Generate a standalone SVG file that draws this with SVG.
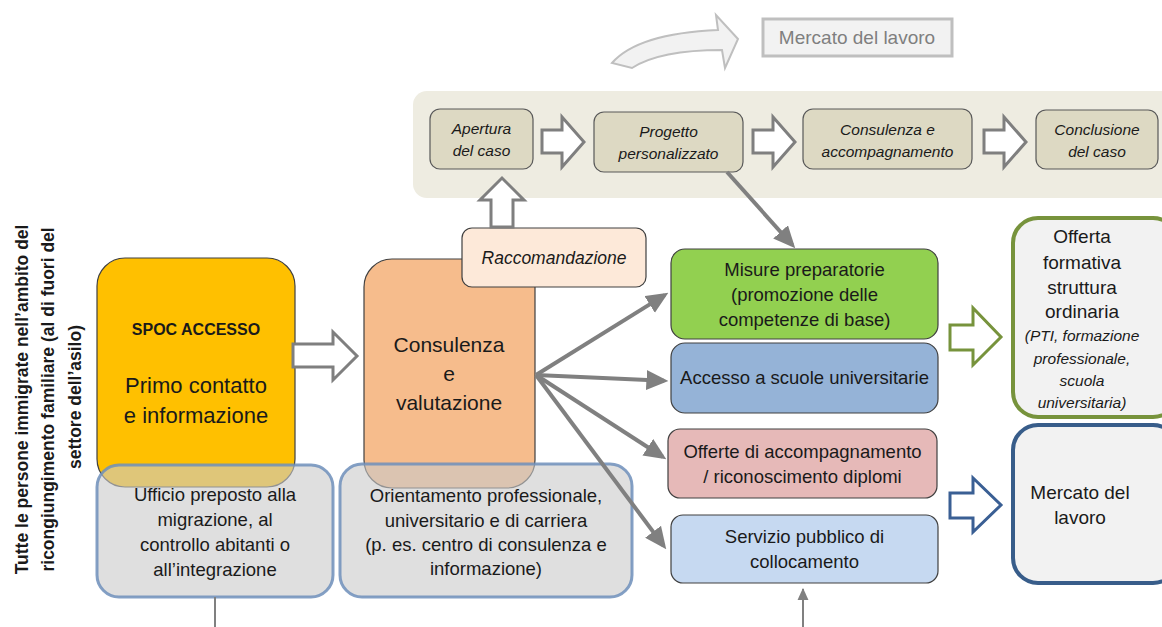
<svg xmlns="http://www.w3.org/2000/svg" width="1162" height="627" viewBox="0 0 1162 627">
<defs>
<style>
text{font-family:"Liberation Sans",Arial,sans-serif;fill:#1a1a1a;text-anchor:middle}
.it{font-style:italic}
.box{stroke:#404040;stroke-width:1.2}
.pbox{fill:#ddd9c3;stroke:#595959;stroke-width:1.2}
.ptxt{font-size:15.5px;font-style:italic}
.gbox{fill:#c9c9c9;fill-opacity:0.6;stroke:#6f8fbb;stroke-opacity:0.85;stroke-width:3}
.btxt{font-size:18.5px}
.hollow{fill:#ffffff;stroke:#7f7f7f;stroke-width:3;stroke-linejoin:miter}
.con{stroke:#808080;stroke-width:4;fill:none}
</style>
<marker id="ah" markerUnits="userSpaceOnUse" markerWidth="22" markerHeight="20" refX="16" refY="9" orient="auto" viewBox="0 0 20 18">
<path d="M0,0 L20,9 L0,18 Z" fill="#808080"/>
</marker>
<marker id="ahs" markerUnits="userSpaceOnUse" markerWidth="12" markerHeight="12" refX="10" refY="5" orient="auto" viewBox="0 0 11 10">
<path d="M0,0 L11,5 L0,10 Z" fill="#808080"/>
</marker>
</defs>
<rect width="1162" height="627" fill="#ffffff"/>

<!-- top curved arrow and labor market -->
<g id="top-arrow">
<path d="M612,63 C632,40 672,32 718,30 L716,15 L738,39 L725,68 L722,50 C682,50 652,55 632,68 Z" fill="#f2f2f2" stroke="#bfbfbf" stroke-width="2"/>
</g>
<g id="mercato-top">
<rect x="763" y="19" width="189" height="37" fill="#f2f2f2" stroke="#bfbfbf" stroke-width="3"/>
<text x="857" y="44" style="font-size:19px;fill:#7f7f7f">Mercato del lavoro</text>
</g>

<!-- process band -->
<g id="band">
<rect x="413" y="91" width="770" height="107" rx="14" fill="#eeece1"/>
</g>
<g id="apertura">
<rect class="pbox" x="430" y="109" width="103" height="60" rx="10"/>
<text class="ptxt" x="481.5" y="134">Apertura</text>
<text class="ptxt" x="481.5" y="156">del caso</text>
</g>
<g id="progetto">
<rect class="pbox" x="594" y="112" width="149" height="60" rx="10"/>
<text class="ptxt" x="668.5" y="137">Progetto</text>
<text class="ptxt" x="668.5" y="159">personalizzato</text>
</g>
<g id="consulenza-acc">
<rect class="pbox" x="803" y="109" width="169" height="60" rx="10"/>
<text class="ptxt" x="887.5" y="135">Consulenza e</text>
<text class="ptxt" x="887.5" y="157">accompagnamento</text>
</g>
<g id="conclusione">
<rect class="pbox" x="1036" y="110" width="122" height="59" rx="10"/>
<text class="ptxt" x="1097" y="135">Conclusione</text>
<text class="ptxt" x="1097" y="157">del caso</text>
</g>

<!-- left vertical label -->
<g id="target-group">
<text transform="rotate(-90)" style="font-size:17.5px;font-weight:bold">
<tspan x="-397" y="28">Tutte le persone immigrate nell’ambito del</tspan>
<tspan x="-397" y="54">ricongiungimento familiare (al di fuori del</tspan>
<tspan x="-397" y="81">settore dell’asilo)</tspan>
</text>
</g>

<!-- SPOC -->
<g id="spoc">
<rect class="box" x="97" y="258" width="198" height="229" rx="28" fill="#ffc000"/>
<text x="196" y="335" style="font-size:16px;font-weight:bold">SPOC ACCESSO</text>
<text x="196" y="393" style="font-size:22px">Primo contatto</text>
<text x="196" y="423" style="font-size:22px">e informazione</text>
</g>

<!-- Consulenza e valutazione -->
<g id="consulenza">
<rect class="box" x="364" y="259" width="171" height="229" rx="28" fill="#f6bc8c"/>
<text x="449" y="352" style="font-size:21px">Consulenza</text>
<text x="449" y="381" style="font-size:21px">e</text>
<text x="449" y="410" style="font-size:21px">valutazione</text>
</g>

<g id="raccomandazione">
<rect class="box" x="462" y="228" width="184" height="59" rx="10" fill="#fde9d9"/>
<text class="it" x="554" y="264" style="font-size:17.5px">Raccomandazione</text>
</g>

<!-- gray institution boxes -->
<g id="ufficio">
<rect class="gbox" x="97" y="465" width="236" height="132" rx="22"/>
<text class="btxt" x="215" y="501">Ufficio preposto alla</text>
<text class="btxt" x="215" y="526">migrazione, al</text>
<text class="btxt" x="215" y="551">controllo abitanti o</text>
<text class="btxt" x="215" y="576">all’integrazione</text>
</g>
<g id="orientamento">
<rect class="gbox" x="340" y="464" width="292" height="133" rx="22"/>
<text class="btxt" x="486" y="502">Orientamento professionale,</text>
<text class="btxt" x="486" y="527">universitario e di carriera</text>
<text class="btxt" x="486" y="551">(p. es. centro di consulenza e</text>
<text class="btxt" x="486" y="575">informazione)</text>
</g>

<!-- measure boxes -->
<g id="misure">
<rect class="box" x="671" y="249" width="267" height="90" rx="14" fill="#92d050"/>
<text class="btxt" x="804.5" y="276">Misure preparatorie</text>
<text class="btxt" x="804.5" y="301">(promozione delle</text>
<text class="btxt" x="804.5" y="326">competenze di base)</text>
</g>
<g id="accesso">
<rect class="box" x="671" y="343" width="267" height="70" rx="14" fill="#95b3d7"/>
<text class="btxt" x="804.5" y="384">Accesso a scuole universitarie</text>
</g>
<g id="offerte">
<rect class="box" x="668" y="429" width="269" height="69" rx="12" fill="#e6b9b8"/>
<text class="btxt" x="802.5" y="458">Offerte di accompagnamento</text>
<text class="btxt" x="802.5" y="483">/ riconoscimento diplomi</text>
</g>
<g id="servizio">
<rect class="box" x="671" y="515" width="267" height="68" rx="12" fill="#c6d9f1"/>
<text class="btxt" x="804.5" y="543">Servizio pubblico di</text>
<text class="btxt" x="804.5" y="568">collocamento</text>
</g>

<!-- outcome boxes -->
<g id="offerta-formativa">
<rect x="1013" y="218" width="165" height="199" rx="25" fill="#f2f2f2" stroke="#77933c" stroke-width="4"/>
<text x="1082" y="243" style="font-size:19px">Offerta</text>
<text x="1082" y="269" style="font-size:19px">formativa</text>
<text x="1082" y="294" style="font-size:19px">struttura</text>
<text x="1082" y="318" style="font-size:19px">ordinaria</text>
<text class="it" x="1082" y="341" style="font-size:15.5px">(PTI, formazione</text>
<text class="it" x="1082" y="364" style="font-size:15.5px">professionale,</text>
<text class="it" x="1082" y="386" style="font-size:15.5px">scuola</text>
<text class="it" x="1082" y="408" style="font-size:15.5px">universitaria)</text>
</g>
<g id="mercato">
<rect x="1013" y="425" width="165" height="158" rx="25" fill="#f2f2f2" stroke="#385d8a" stroke-width="4"/>
<text x="1080" y="499" style="font-size:19px">Mercato del</text>
<text x="1080" y="524" style="font-size:19px">lavoro</text>
</g>

<!-- connectors -->
<g id="connectors">
<polygon class="hollow" points="293,344 333,344 333,332 357,356 333,380 333,367 293,367"/>
<polygon class="hollow" points="542,130 562,130 562,117 584,142 562,167 562,153 542,153"/>
<polygon class="hollow" points="753,130 773,130 773,117 795,142 773,167 773,153 753,153"/>
<polygon class="hollow" points="984,130 1004,130 1004,117 1026,142 1004,167 1004,153 984,153"/>
<polygon class="hollow" points="491,227 491,200 480,200 502,178 524,200 513,200 513,227"/>
<polygon points="950,325 973,325 973,308 1001,337 973,365 973,350 950,350" fill="#ffffff" stroke="#77933c" stroke-width="3"/>
<polygon points="950,493 973,493 973,478 1001,505 973,532 973,518 950,518" fill="#ffffff" stroke="#3a5f94" stroke-width="3"/>
<line class="con" x1="536" y1="375" x2="664.6" y2="295.1" marker-end="url(#ah)"/>
<line class="con" x1="536" y1="375" x2="664" y2="380.8" marker-end="url(#ah)"/>
<line class="con" x1="536" y1="375" x2="662.6" y2="456.8" marker-end="url(#ah)"/>
<line class="con" x1="536" y1="375" x2="663.6" y2="545.8" marker-end="url(#ah)"/>
<line class="con" x1="727" y1="172" x2="792.3" y2="245" marker-end="url(#ah)"/>
<line x1="215" y1="597" x2="215" y2="627" stroke="#808080" stroke-width="2"/>
<line x1="803" y1="627" x2="803" y2="589" stroke="#808080" stroke-width="2" marker-end="url(#ahs)"/>
</g>
</svg>
